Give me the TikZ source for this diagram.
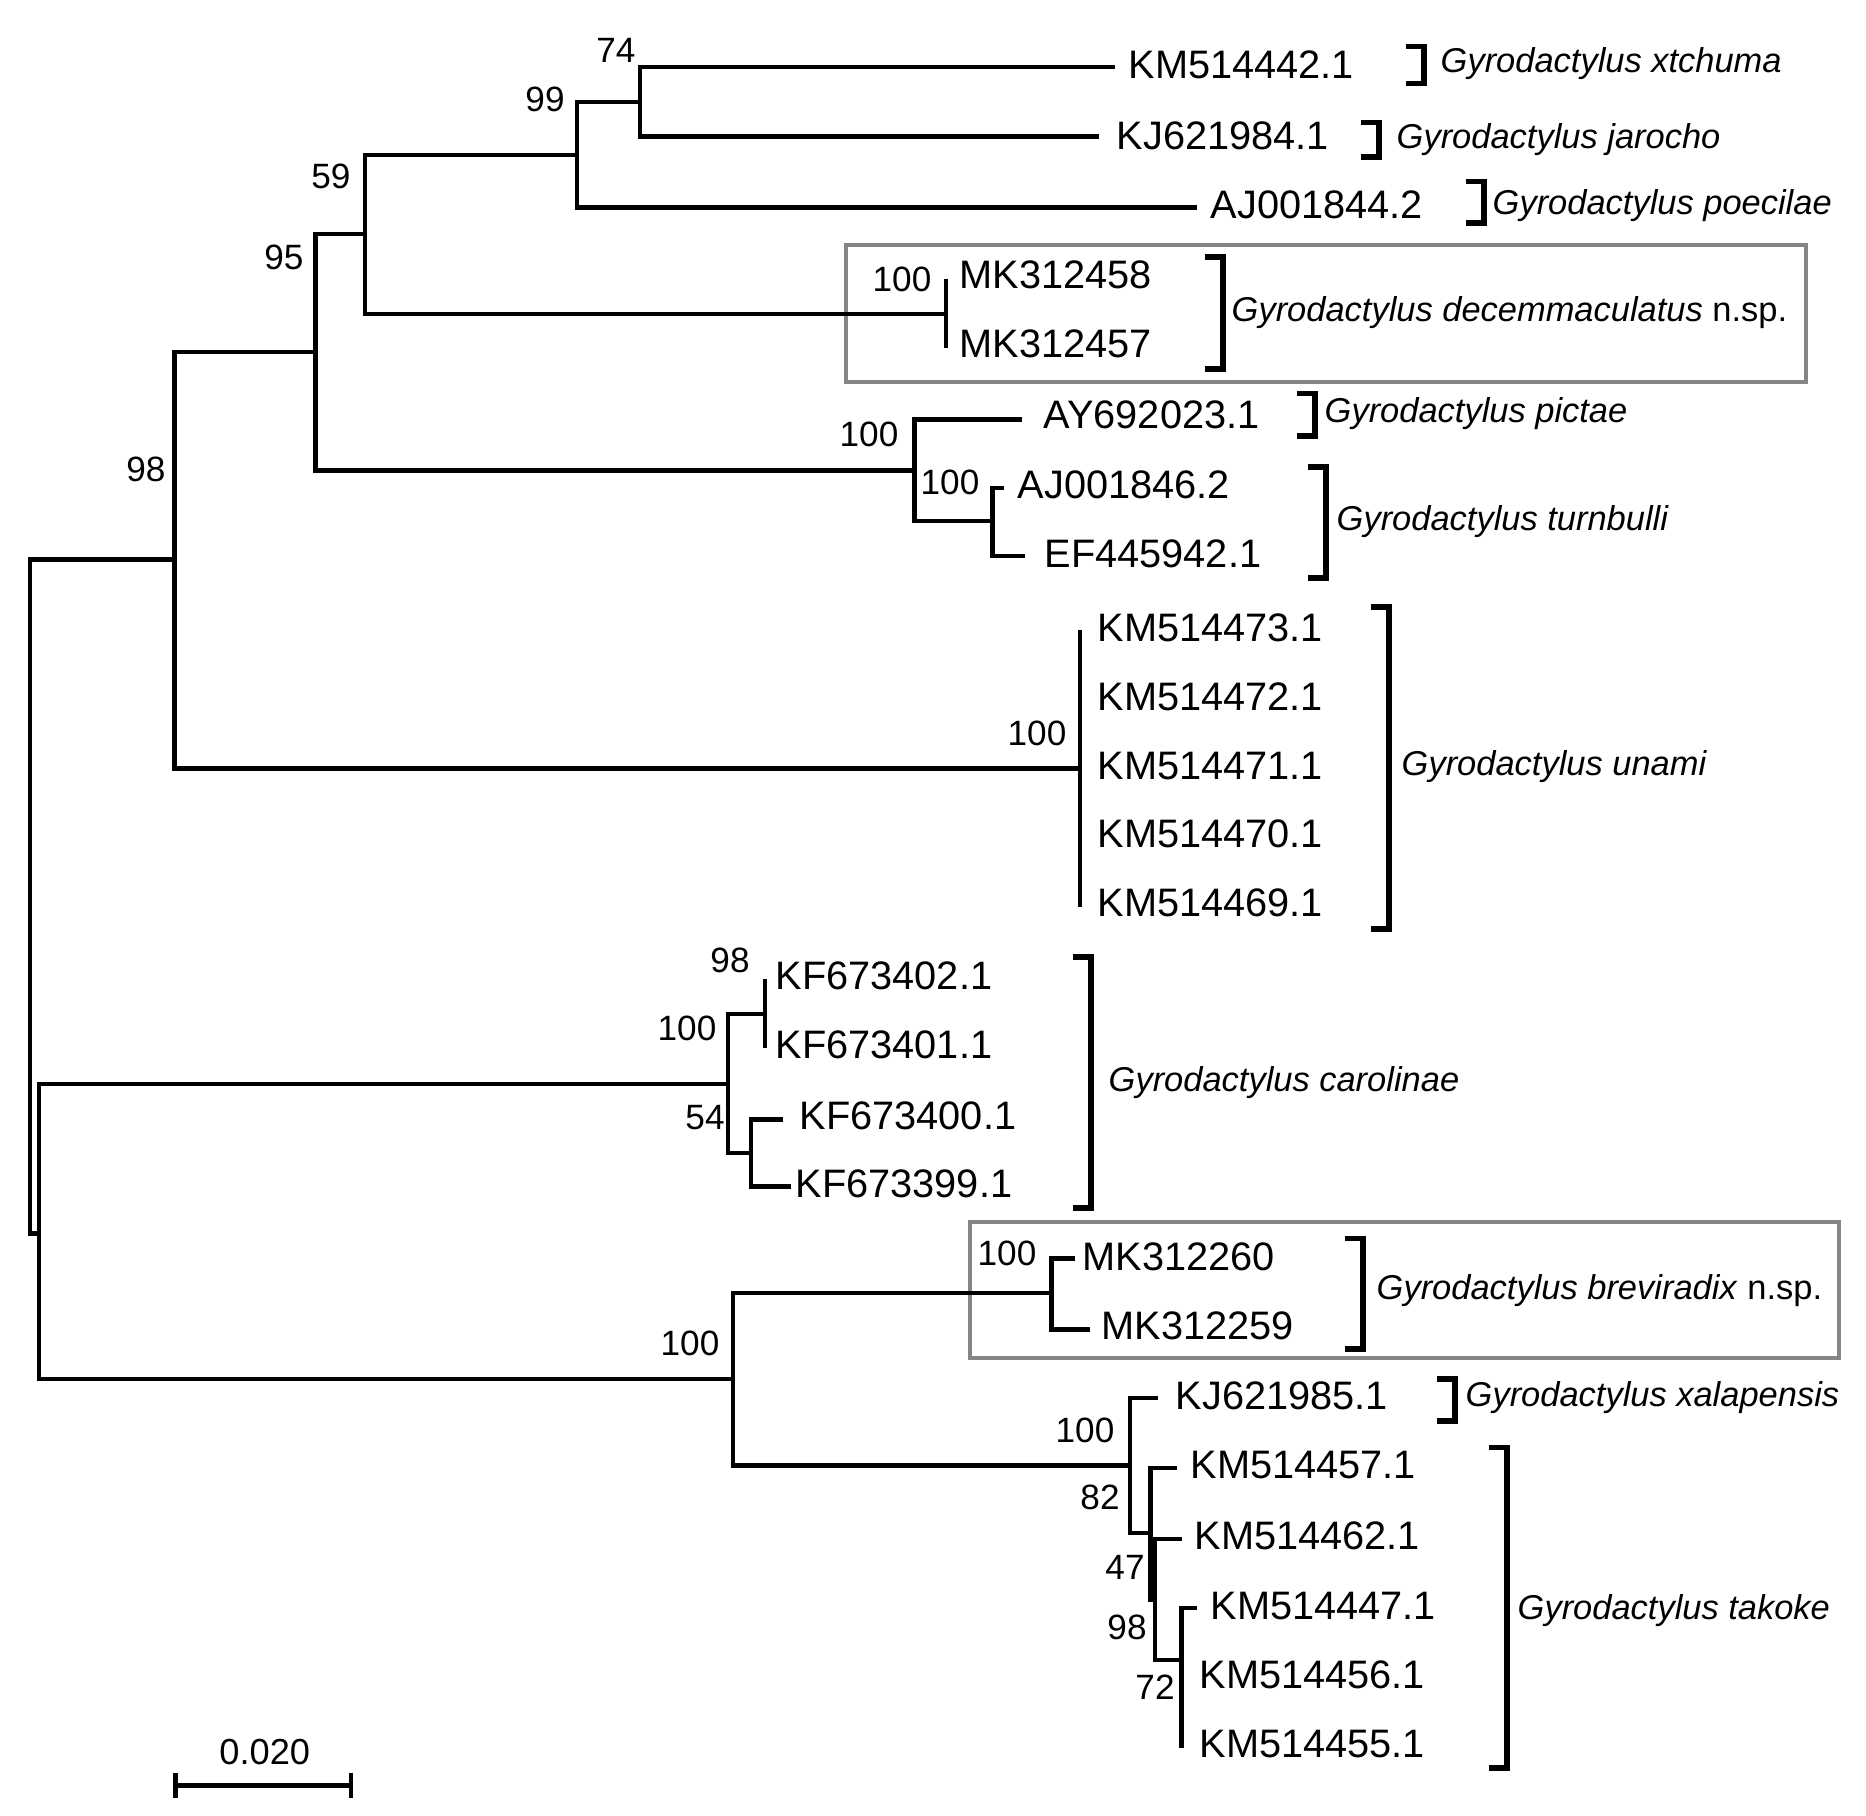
\documentclass[tikz,border=0pt]{standalone}
\usepackage{fontspec}
\setmainfont{Liberation Sans}
\usepackage{tikz}
\usetikzlibrary{positioning}
\definecolor{boxgray}{HTML}{858585}

\tikzset{
  br/.style={line width=1.4pt},
  brk/.style={line width=1.5pt},
  tip/.style={anchor=west,inner sep=0pt,font=\fontsize{11.3}{13}\selectfont},
  boot/.style={inner sep=0pt,font=\fontsize{10}{12}\selectfont},
  sp/.style={anchor=base west,inner sep=0pt,font=\fontsize{9.8}{12}\selectfont},
  nsp/.style={boxgray,line width=1.2pt}
}

\begin{document}
\begin{tikzpicture}[x=0.01cm,y=-0.01cm]
\useasboundingbox (0,0) rectangle (1866,1816);

% boxes round the new species
\draw[nsp] (846,245) rectangle (1806,382);
\draw[nsp] (970,1222) rectangle (1839,1358);

% internal nodes
\coordinate (root) at (30,896.5);
\coordinate (n98) at (174.5,559.5);
\coordinate (n95) at (315.5,352);
\coordinate (n59) at (365,234);
\coordinate (n99) at (577,155);
\coordinate (n74) at (640,102);
\coordinate (ndec) at (946,314);
\coordinate (npic) at (914.5,470.7);
\coordinate (nturn) at (992.5,521);
\coordinate (nuna) at (1080,768.5);
\coordinate (nlow) at (39,1233.4);
\coordinate (ncar) at (728,1084);
\coordinate (n98b) at (765,1014);
\coordinate (n54) at (751,1153);
\coordinate (nbt) at (733,1379);
\coordinate (nbrev) at (1051.7,1293);
\coordinate (nxal) at (1130,1465.3);
\coordinate (n82) at (1150.7,1533);
\coordinate (n47) at (1155,1600);
\coordinate (n98c) at (1181.7,1660);
\coordinate (n72) at (1181.7,1713);

% tips
\coordinate (xt) at (1114.5,67);
\coordinate (ja) at (1098.5,136.6);
\coordinate (po) at (1197,207.8);
\coordinate (de1) at (946,278.7);
\coordinate (de2) at (946,348.3);
\coordinate (pi) at (1022,419.8);
\coordinate (tu1) at (1004,488);
\coordinate (tu2) at (1025,556);
\coordinate (un1) at (1080,630);
\coordinate (un2) at (1080,699);
\coordinate (un3) at (1080,768);
\coordinate (un4) at (1080,837);
\coordinate (un5) at (1080,907);
\coordinate (ca1) at (765,979.3);
\coordinate (ca2) at (765,1048.3);
\coordinate (ca3) at (782.7,1119.3);
\coordinate (ca4) at (790.7,1186.7);
\coordinate (bv1) at (1075,1258.3);
\coordinate (bv2) at (1090,1329.3);
\coordinate (xa) at (1158,1398);
\coordinate (ta1) at (1176.7,1468);
\coordinate (ta2) at (1181.7,1539);
\coordinate (ta3) at (1197,1608);
\coordinate (ta4) at (1181.7,1678);
\coordinate (ta5) at (1181.7,1748);

% branches
\draw[br] (root) |- (n98);
\draw[br] (root) |- (nlow);
\draw[br] (n98) |- (n95);
\draw[br] (n98) |- (nuna);
\draw[br] (n95) |- (n59);
\draw[br] (n95) |- (npic);
\draw[br] (n59) |- (n99);
\draw[br] (n59) |- (ndec);
\draw[br] (n99) |- (n74);
\draw[br] (n99) |- (po);
\draw[br] (n74) |- (xt);
\draw[br] (n74) |- (ja);
\draw[br] (ndec) |- (de1);
\draw[br] (ndec) |- (de2);
\draw[br] (npic) |- (pi);
\draw[br] (npic) |- (nturn);
\draw[br] (nturn) |- (tu1);
\draw[br] (nturn) |- (tu2);
\draw[br] (nuna) |- (un1);
\draw[br] (nuna) |- (un2);
\draw[br] (nuna) |- (un3);
\draw[br] (nuna) |- (un4);
\draw[br] (nuna) |- (un5);
\draw[br] (nlow) |- (ncar);
\draw[br] (nlow) |- (nbt);
\draw[br] (ncar) |- (n98b);
\draw[br] (ncar) |- (n54);
\draw[br] (n98b) |- (ca1);
\draw[br] (n98b) |- (ca2);
\draw[br] (n54) |- (ca3);
\draw[br] (n54) |- (ca4);
\draw[br] (nbt) |- (nbrev);
\draw[br] (nbt) |- (nxal);
\draw[br] (nbrev) |- (bv1);
\draw[br] (nbrev) |- (bv2);
\draw[br] (nxal) |- (xa);
\draw[br] (nxal) |- (n82);
\draw[br] (n82) |- (ta1);
\draw[br] (n82) |- (n47);
\draw[br] (n47) |- (ta2);
\draw[br] (n47) |- (n98c);
\draw[br] (n98c) |- (ta3);
\draw[br] (n98c) |- (n72);
\draw[br] (n72) |- (ta4);
\draw[br] (n72) |- (ta5);

% accession labels
\node[tip] (lxt) at (1128,65) {KM514442.1};
\node[tip] (lja) at (1116,136) {KJ621984.1};
\node[tip] (lpo) at (1210,205) {AJ001844.2};
\node[tip] (lde1) at (959,275) {MK312458};
\node[tip] (lde2) at (959,344) {MK312457};
\node[tip] (lpi) at (1043,415) {AY692023.1};
\node[tip] (ltu1) at (1017,485) {AJ001846.2};
\node[tip] (ltu2) at (1044,554) {EF445942.1};
\node[tip] (lun1) at (1097,628) {KM514473.1};
\node[tip] (lun2) at (1097,697) {KM514472.1};
\node[tip] (lun3) at (1097,766) {KM514471.1};
\node[tip] (lun4) at (1097,834) {KM514470.1};
\node[tip] (lun5) at (1097,903) {KM514469.1};
\node[tip] (lca1) at (775,976) {KF673402.1};
\node[tip] (lca2) at (775,1045) {KF673401.1};
\node[tip] (lca3) at (799,1116) {KF673400.1};
\node[tip] (lca4) at (795,1184) {KF673399.1};
\node[tip] (lbv1) at (1082,1257) {MK312260};
\node[tip] (lbv2) at (1101,1326) {MK312259};
\node[tip] (lxa) at (1175,1396) {KJ621985.1};
\node[tip] (lta1) at (1190,1465) {KM514457.1};
\node[tip] (lta2) at (1194,1536) {KM514462.1};
\node[tip] (lta3) at (1210,1606) {KM514447.1};
\node[tip] (lta4) at (1199,1675) {KM514456.1};
\node[tip] (lta5) at (1199,1744) {KM514455.1};

% bootstrap values
\node[boot] (b74) at (616,50) {74};
\node[boot] (b99) at (545,99) {99};
\node[boot] (b59) at (331,176) {59};
\node[boot] (b95) at (284,257) {95};
\node[boot] (b98) at (146,469) {98};
\node[boot] (bdec) at (902,279) {100};
\node[boot] (bpic) at (869,434) {100};
\node[boot] (bturn) at (950,482) {100};
\node[boot] (buna) at (1037,733) {100};
\node[boot] (bca98) at (730,960) {98};
\node[boot] (bcar) at (687,1028) {100};
\node[boot] (b54) at (705,1118) {54};
\node[boot] (bbt) at (690,1343) {100};
\node[boot] (bbrev) at (1007,1253) {100};
\node[boot] (bxal) at (1085,1430) {100};
\node[boot] (b82) at (1100,1497) {82};
\node[boot] (b47) at (1125,1567) {47};
\node[boot] (b98c) at (1127,1627) {98};
\node[boot] (b72) at (1155,1687) {72};

% species brackets
\draw[brk] (1406,46.7) -- (1424,46.7) -- (1424,83.4) -- (1406,83.4);
\draw[brk] (1361,122.5) -- (1379,122.5) -- (1379,157) -- (1361,157);
\draw[brk] (1466,181.8) -- (1484,181.8) -- (1484,223) -- (1466,223);
\draw[brk] (1205,257) -- (1223,257) -- (1223,369) -- (1205,369);
\draw[brk] (1297,393.3) -- (1315,393.3) -- (1315,436) -- (1297,436);
\draw[brk] (1308,467) -- (1326,467) -- (1326,578) -- (1308,578);
\draw[brk] (1371,607) -- (1389,607) -- (1389,929) -- (1371,929);
\draw[brk] (1073,957) -- (1091,957) -- (1091,1208) -- (1073,1208);
\draw[brk] (1345,1238.5) -- (1363,1238.5) -- (1363,1349) -- (1345,1349);
\draw[brk] (1437,1379) -- (1455,1379) -- (1455,1421) -- (1437,1421);
\draw[brk] (1489,1447.6) -- (1507,1447.6) -- (1507,1768) -- (1489,1768);

% species names
\node[sp] (sxt) at (1440,73) {\textit{Gyrodactylus xtchuma}};
\node[sp] (sja) at (1396,149) {\textit{Gyrodactylus jarocho}};
\node[sp] (spo) at (1492,215) {\textit{Gyrodactylus poecilae}};
\node[sp] (sde) at (1231,322) {\textit{Gyrodactylus decemmaculatus} n.sp.};
\node[sp] (spi) at (1324,423) {\textit{Gyrodactylus pictae}};
\node[sp] (stu) at (1336,531) {\textit{Gyrodactylus turnbulli}};
\node[sp] (sun) at (1401,776) {\textit{Gyrodactylus unami}};
\node[sp] (sca) at (1108,1092) {\textit{Gyrodactylus carolinae}};
\node[sp] (sbv) at (1376,1300) {\textit{Gyrodactylus breviradix} n.sp.};
\node[sp] (sxa) at (1465,1406) {\textit{Gyrodactylus xalapensis}};
\node[sp] (sta) at (1517,1619) {\textit{Gyrodactylus takoke}};

% scale bar
\coordinate (sb1) at (175.5,1785.6);
\coordinate (sb2) at (351,1785.6);
\draw[br] (sb1) -- (sb2);
\draw[br] ([yshift=0.125cm]sb1) -- ([yshift=-0.12cm]sb1);
\draw[br] ([yshift=0.125cm]sb2) -- ([yshift=-0.12cm]sb2);
\node[boot,font=\fontsize{10.3}{12}\selectfont] (sbl) at (264.8,1752) {0.020};
\end{tikzpicture}
\end{document}
